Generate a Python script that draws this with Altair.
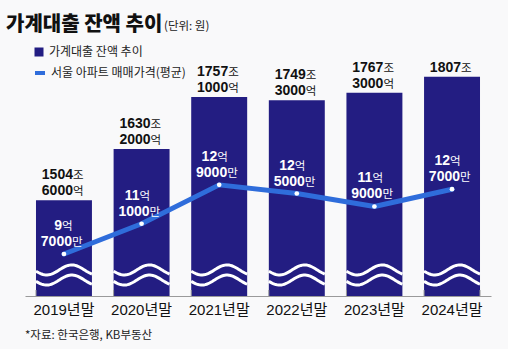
import math
import altair as alt
import pandas as pd

# ---------------- data ----------------
years = ["2019년말", "2020년말", "2021년말", "2022년말", "2023년말", "2024년말"]
loan_jo = [1504, 1630, 1757, 1749, 1767, 1807]        # 가계대출 잔액 (조)
loan_eok = [6000, 2000, 1000, 3000, 3000, 0]          # + 억
price_eok = [9, 11, 12, 12, 11, 12]                   # 서울 아파트 평균 매매가 (억)
price_man = [7000, 1000, 9000, 5000, 9000, 7000]      # + 만

series_loan = "가계대출 잔액 추이"
series_price = "서울 아파트 매매가격(평균)"

rows = []
for i, yr in enumerate(years):
    if loan_eok[i]:
        up_num, up_unit = str(loan_jo[i]), "조"
        lo_num, lo_unit = str(loan_eok[i]), "억"
    else:
        up_num, up_unit = "", ""
        lo_num, lo_unit = str(loan_jo[i]), "조"
    rows.append({
        "year": yr,
        "loan": loan_jo[i] + loan_eok[i] / 10000,
        "price": price_eok[i] + price_man[i] / 10000,
        "up_num": up_num, "up_unit": up_unit,
        "lo_num": lo_num, "lo_unit": lo_unit,
        "pe": str(price_eok[i]), "pe_u": "억",
        "pm": str(price_man[i]), "pm_u": "만",
        "s_loan": series_loan, "s_price": series_price,
    })
df = pd.DataFrame(rows)

# ---------------- style ----------------
NAVY = "#231d82"
BLUE = "#2f6ddb"
NUM_FONT = "Liberation Sans, Noto Sans CJK KR"
KR_FONT = "Noto Sans CJK KR"
W, H = 466, 236
BAR_W = 56

bar_scale = alt.Scale(domain=[1270.4, 1847.7], zero=False, nice=False)
line_scale = alt.Scale(domain=[7.756, 18.68], zero=False, nice=False)

def X(band=None):
    kw = {}
    if band is not None:
        kw["bandPosition"] = band
    return alt.X(
        "year:N", sort=years,
        scale=alt.Scale(paddingInner=0.279, paddingOuter=0.1416),
        axis=alt.Axis(title=None, labelAngle=0, ticks=False, domainColor="#9a9a9a",
                      domainWidth=1, labelFont=NUM_FONT, labelFontSize=15,
                      labelColor="#111111", labelPadding=6),
        **kw,
    )

base = alt.Chart(df)

bars = base.mark_bar(color=NAVY).encode(
    x=X(),
    y=alt.Y("loan:Q", scale=bar_scale, axis=None),
    y2=alt.datum(1270.4),
    fill=alt.Fill("s_loan:N", scale=alt.Scale(range=[NAVY]),
                  legend=alt.Legend(title=None, orient="none", legendX=8, legendY=-14,
                                    symbolType="square", symbolSize=81,
                                    labelFont=KR_FONT, labelFontSize=12,
                                    labelColor="#222222", labelOffset=4)),
)

# wave decoration (broken-axis sign)
pts = []
P, A, XT = 1.8, 0.18, -0.62
for c in (-0.18, 0.18):
    seg = []
    for k in range(41):
        xx = -1 + k * 0.05
        yy = c + A * math.cos(2 * math.pi * (xx - XT) / P)
        seg.append(("M" if k == 0 else "L") + f"{xx:.3f},{yy:.3f}")
    pts.append(" ".join(seg))
wave_path = " ".join(pts)

wave = base.mark_point(shape=wave_path, size=BAR_W * BAR_W, filled=False,
                       stroke="white", strokeWidth=3, opacity=1).encode(
    x=X(), y=alt.value(215))

ticks = base.mark_rule(color="#9a9a9a", strokeWidth=1).encode(
    x=X(0), y=alt.value(230), y2=alt.value(236))
ticks_end = base.transform_filter(alt.datum.year == years[-1]).mark_rule(
    color="#9a9a9a", strokeWidth=1).encode(
    x=X(1), y=alt.value(230), y2=alt.value(236))

def num_text(field, dy, dx, color, yfield, scale):
    return base.mark_text(align="right", baseline="alphabetic", dx=dx, dy=dy,
                          font=NUM_FONT, fontSize=14, fontWeight="bold",
                          color=color).encode(
        x=X(), y=alt.Y(yfield, scale=scale, axis=None), text=field)

def unit_text(field, dy, dx, color, yfield, scale):
    return base.mark_text(align="left", baseline="alphabetic", dx=dx, dy=dy,
                          font=KR_FONT, fontSize=11.5, fontWeight="normal",
                          color=color).encode(
        x=X(), y=alt.Y(yfield, scale=scale, axis=None), text=field)

top_labels = [
    num_text("up_num:N", -21, 9, "#111111", "loan:Q", bar_scale),
    unit_text("up_unit:N", -21, 9, "#111111", "loan:Q", bar_scale),
    num_text("lo_num:N", -5, 9, "#111111", "loan:Q", bar_scale),
    unit_text("lo_unit:N", -5, 9, "#111111", "loan:Q", bar_scale),
]

line = base.mark_line(strokeWidth=5, strokeCap="round", strokeJoin="round").encode(
    x=X(),
    y=alt.Y("price:Q", scale=line_scale, axis=None),
    stroke=alt.Stroke("s_price:N", scale=alt.Scale(range=[BLUE]),
                      legend=alt.Legend(title=None, orient="none", legendX=8, legendY=6,
                                        symbolType="stroke", symbolSize=100,
                                        symbolStrokeWidth=4,
                                        labelFont=KR_FONT, labelFontSize=12,
                                        labelColor="#222222", labelOffset=4)),
)
dots = base.mark_circle(size=22, color="white", opacity=1).encode(
    x=X(), y=alt.Y("price:Q", scale=line_scale, axis=None))

inner_labels = [
    num_text("pe:N", -24, -2, "white", "price:Q", line_scale),
    unit_text("pe_u:N", -24, -2, "white", "price:Q", line_scale),
    num_text("pm:N", -8, 8, "white", "price:Q", line_scale),
    unit_text("pm_u:N", -8, 8, "white", "price:Q", line_scale),
]

one = alt.Chart(pd.DataFrame({"a": [0]}))
title = one.mark_text(text="가계대출 잔액 추이", align="left", baseline="alphabetic",
                      font=KR_FONT, fontSize=20, fontWeight=900, color="#111111").encode(
    x=alt.value(-19), y=alt.value(-29))
unit_note = one.mark_text(text="(단위: 원)", align="left", baseline="alphabetic",
                          font=KR_FONT, fontSize=11.5, color="#222222").encode(
    x=alt.value(139), y=alt.value(-30))
source = one.mark_text(text="*자료: 한국은행, KB부동산", align="left", baseline="alphabetic",
                       font=KR_FONT, fontSize=11.5, color="#222222").encode(
    x=alt.value(0), y=alt.value(279))

chart = alt.layer(
    bars, wave, ticks, ticks_end, *top_labels, line, dots, *inner_labels,
    title, unit_note, source,
).resolve_scale(y="independent").properties(
    width=W, height=H,
    padding={"left": 25, "top": 60, "right": 17, "bottom": 53},
    autosize=alt.AutoSizeParams(type="none"),
    background="#f9f9fa",
).configure_view(stroke=None)

chart.save("out.html", embed_options={"renderer": "svg", "actions": False})
